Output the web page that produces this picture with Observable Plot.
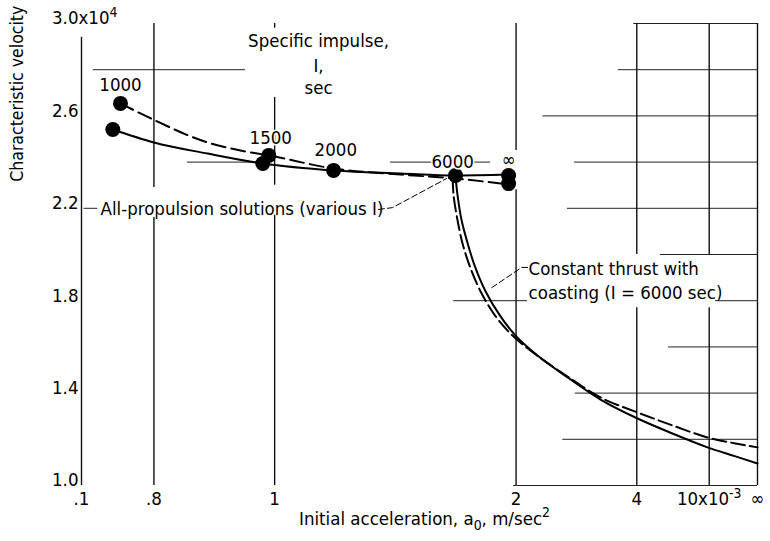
<!DOCTYPE html>
<html>
<head>
<meta charset="utf-8">
<script src="https://cdn.jsdelivr.net/npm/d3@7"></script>
<script src="https://cdn.jsdelivr.net/npm/@observablehq/plot@0.6"></script>
<style>
  body { margin: 0; background: #fff; }
  #chart svg { display: block; }
</style>
</head>
<body>
<div id="chart"></div>
<script>
// Initial acceleration a0 in units of 10^-3 m/sec^2 (Infinity = ∞), drawn on a reciprocal axis.
// Characteristic velocity in units of 10^4 m/sec.
const xTickValues = [1 / 1.4, 0.8, 1, 2, 4, 10, Infinity];
const xTickLabels = [".1", ".8", "1", "2", "4", "10x10⁻³", "∞"];
const yTickValues = [1.0, 1.4, 1.8, 2.2, 2.6, 3.0];
const yTickLabels = ["1.0", "1.4", "1.8", "2.2", "2.6", "3.0"];

// All-propulsion solutions (solid)
const propSolidA = [0.749, 0.800, 0.878, 0.976, 1.139, 1.353, 1.599, 1.940];
const propSolidV = [2.541, 2.485, 2.437, 2.394, 2.364, 2.351, 2.342, 2.346];
// All-propulsion solutions (dashed)
const propDashA = [0.758, 0.796, 0.878, 0.934, 0.988, 1.139, 1.353, 1.599, 1.940];
const propDashV = [2.654, 2.589, 2.485, 2.450, 2.429, 2.372, 2.346, 2.329, 2.303];

// Constant thrust with coasting, I = 6000 sec (solid)
const coastSolidA = [1.599, 1.610, 1.632, 1.666, 1.707, 1.776, 1.879, 1.996, 2.195, 2.542, 3.076, 4.025, 5.682, 9.66, 21.95, Infinity];
const coastSolidV = [2.338, 2.255, 2.147, 2.048, 1.952, 1.840, 1.732, 1.649, 1.563, 1.468, 1.372, 1.290, 1.225, 1.165, 1.126, 1.095];
// Constant thrust with coasting, I = 6000 sec (dashed)
const coastDashA = [1.584, 1.589, 1.610, 1.637, 1.677, 1.744, 1.844, 1.971, 2.176, 2.542, 3.076, 4.025, 5.682, 9.66, 21.95, Infinity];
const coastDashV = [2.329, 2.255, 2.147, 2.048, 1.952, 1.840, 1.732, 1.649, 1.567, 1.472, 1.381, 1.316, 1.260, 1.208, 1.182, 1.165];

// Solution points (specific impulse I, sec)
const dotA = [0.758, 0.749, 0.988, 0.976, 1.139, 1.599, 1.940, 1.940];
const dotV = [2.654, 2.541, 2.429, 2.394, 2.364, 2.342, 2.342, 2.307];
const impulseLabels = ["1000", "1500", "2000", "6000", "∞"];
const impulseLabelA = [0.758, 0.992, 1.145, 1.584, 1.940];
const impulseLabelV = [2.732, 2.506, 2.450, 2.398, 2.407];

// Partial graph-paper grid: horizontal segments (value, from a0, to a0)
const hGridV    = [3.0, 2.8,   2.8,  2.6,  2.4,   2.4,   2.4,   2.4,  2.2,   2.2,  2.0,  1.8,   1.8,  1.6,  1.4,  1.2,  1.0];
const hGridFrom = [3.9, 0.727, 3.47, 2.25, 0.847, 1.316, 1.683, 2.64, 0.717, 2.54, 4.98, 1.589, 11.5, 5.43, 2.65, 2.48, 1.98];
const hGridTo   = [Infinity, 0.943, Infinity, Infinity, 0.976, 1.491, 1.809, Infinity, 0.732, Infinity, Infinity, 2.10, Infinity, Infinity, Infinity, Infinity, Infinity];
// vertical segments (a0, from value, to value)
const vGridA    = [1 / 1.4, 0.8, 0.8, 1, 1, 1, 2, 2, 4, 4, 10, 10, Infinity];
const vGridFrom = [1.0, 2.29, 1.0, 2.98, 2.30, 1.0, 2.45, 1.0, 2.0, 1.0, 2.0, 1.0, 1.0];
const vGridTo   = [2.94, 3.0, 2.16, 3.0, 2.68, 2.17, 3.0, 2.28, 3.0, 1.77, 3.0, 1.77, 3.0];

// Leader lines for the annotations
const leaderPropA = [1.274, 1.323, 1.553];
const leaderPropV = [2.195, 2.203, 2.329];
const leaderCoastA = [2.10, 2.047, 1.809];
const leaderCoastV = [1.944, 1.944, 1.853];

const zip = (as, vs) => as.map((a, i) => ({a, v: vs[i]}));
const X = d => 1 / d.a;
const FONT = "'DejaVu Sans Condensed', 'DejaVu Sans', sans-serif";
const FS = 18.5;

const hGrid = hGridV.map((v, i) => ({v, a1: hGridFrom[i], a2: hGridTo[i]}));
const vGrid = vGridA.map((a, i) => ({a, v1: vGridFrom[i], v2: vGridTo[i]}));

const chart = Plot.plot({
  width: 770,
  height: 541,
  marginLeft: 81,
  marginRight: 13,
  marginTop: 23,
  marginBottom: 56,
  x: {type: "linear", domain: [1.4, 0], axis: null},
  y: {type: "linear", domain: [1, 3], axis: null},
  style: {fontFamily: FONT, fontSize: FS + "px", background: "#fff", color: "#000"},
  marks: [
    Plot.ruleY(hGrid, {y: "v", x1: d => 1 / d.a1, x2: d => 1 / d.a2, stroke: "#222", strokeWidth: 1}),
    Plot.ruleX(vGrid, {x: X, y1: "v1", y2: "v2", stroke: "#111", strokeWidth: 1.4}),
    Plot.line(zip(propSolidA, propSolidV), {x: X, y: "v", stroke: "#000", strokeWidth: 2, curve: "monotone-x"}),
    Plot.line(zip(propDashA, propDashV), {x: X, y: "v", stroke: "#000", strokeWidth: 2, strokeDasharray: "14,6", curve: "monotone-x"}),
    Plot.line(zip(coastSolidA, coastSolidV), {x: X, y: "v", stroke: "#000", strokeWidth: 2, curve: "catmull-rom"}),
    Plot.line(zip(coastDashA, coastDashV), {x: X, y: "v", stroke: "#000", strokeWidth: 2, strokeDasharray: "14,5", curve: "catmull-rom"}),
    Plot.line(zip(leaderPropA, leaderPropV), {x: X, y: "v", stroke: "#000", strokeWidth: 1, strokeDasharray: "6,3"}),
    Plot.line(zip(leaderCoastA, leaderCoastV), {x: X, y: "v", stroke: "#000", strokeWidth: 1, strokeDasharray: "6,3"}),
    Plot.dot(zip(dotA, dotV), {x: X, y: "v", r: 7.5, fill: "#000", stroke: "none"}),
    Plot.text(impulseLabels.map((t, i) => ({t, a: impulseLabelA[i], v: impulseLabelV[i]})),
      {x: X, y: "v", text: "t", fontSize: FS, fill: "#000", stroke: "#fff", strokeWidth: 3, paintOrder: "stroke"}),
    // axis tick labels
    Plot.text(xTickValues.map((a, i) => ({a, t: xTickLabels[i]})),
      {x: X, y: 1, text: "t", lineAnchor: "top", dy: 6, fontSize: FS, fill: "#000"}),
    Plot.text(yTickValues.map((v, i) => ({v, t: yTickLabels[i]})),
      {x: 1.4, y: "v", text: "t", textAnchor: "end", dx: -3, dy: -5, fontSize: FS, fill: "#000"}),
    Plot.text([3.0], {x: 1.4, y: d => d, text: () => "x10⁴", textAnchor: "start", dx: -3, dy: -5, fontSize: FS, fill: "#000"}),
    // annotations
    Plot.text(["Specific impulse,", "I,", "sec"].map((t, i) => ({t, i})),
      {x: 1 / 1.1, y: d => [2.926, 2.814, 2.719][d.i], text: "t", fontSize: FS, fill: "#000"}),
    Plot.text([{a: 0.735, v: 2.195}], {x: X, y: "v", text: () => "All-propulsion solutions (various I)", textAnchor: "start", fontSize: FS, fill: "#000"}),
    Plot.text([{a: 2.109, v: 1.939}], {x: X, y: "v", text: () => "Constant thrust with", textAnchor: "start", fontSize: FS, fill: "#000"}),
    Plot.text([{a: 2.109, v: 1.831}], {x: X, y: "v", text: () => "coasting (I = 6000 sec)", textAnchor: "start", fontSize: FS, fill: "#000"}),
    // axis titles
    Plot.text(["Initial acceleration, a₀, m/sec²"], {frameAnchor: "bottom", dy: 39, dx: 5, text: d => d, fontSize: FS, fill: "#000"}),
    Plot.text(["Characteristic velocity"], {x: 1.4, y: 2.315, text: d => d, rotate: -90, textAnchor: "start", dx: -64, fontSize: 17.5, fill: "#000"})
  ]
});

// Render Unicode super/subscripts as real raised/lowered tspans.
const SUP = {"⁰": "0", "¹": "1", "²": "2", "³": "3", "⁴": "4", "⁻": "-"};
const SUB = {"₀": "0"};
d3.select(chart).selectAll("text").each(function () {
  const el = this;
  const s = el.textContent;
  if (![...s].some(c => SUP[c] || SUB[c])) return;
  const runs = [];
  for (const c of s) {
    const kind = SUP[c] ? "sup" : SUB[c] ? "sub" : "n";
    const ch = SUP[c] || SUB[c] || c;
    if (runs.length && runs[runs.length - 1].kind === kind) runs[runs.length - 1].t += ch;
    else runs.push({kind, t: ch});
  }
  while (el.firstChild) el.removeChild(el.firstChild);
  let shift = 0;
  for (const r of runs) {
    const ts = document.createElementNS("http://www.w3.org/2000/svg", "tspan");
    const target = r.kind === "sup" ? -0.38 * FS : r.kind === "sub" ? 0.28 * FS : 0;
    if (target !== shift) ts.setAttribute("dy", (target - shift).toFixed(2));
    if (r.kind !== "n") ts.setAttribute("font-size", (FS * 0.75).toFixed(1));
    shift = target;
    ts.textContent = r.t;
    el.appendChild(ts);
  }
});

document.getElementById("chart").appendChild(chart);
</script>
</body>
</html>
